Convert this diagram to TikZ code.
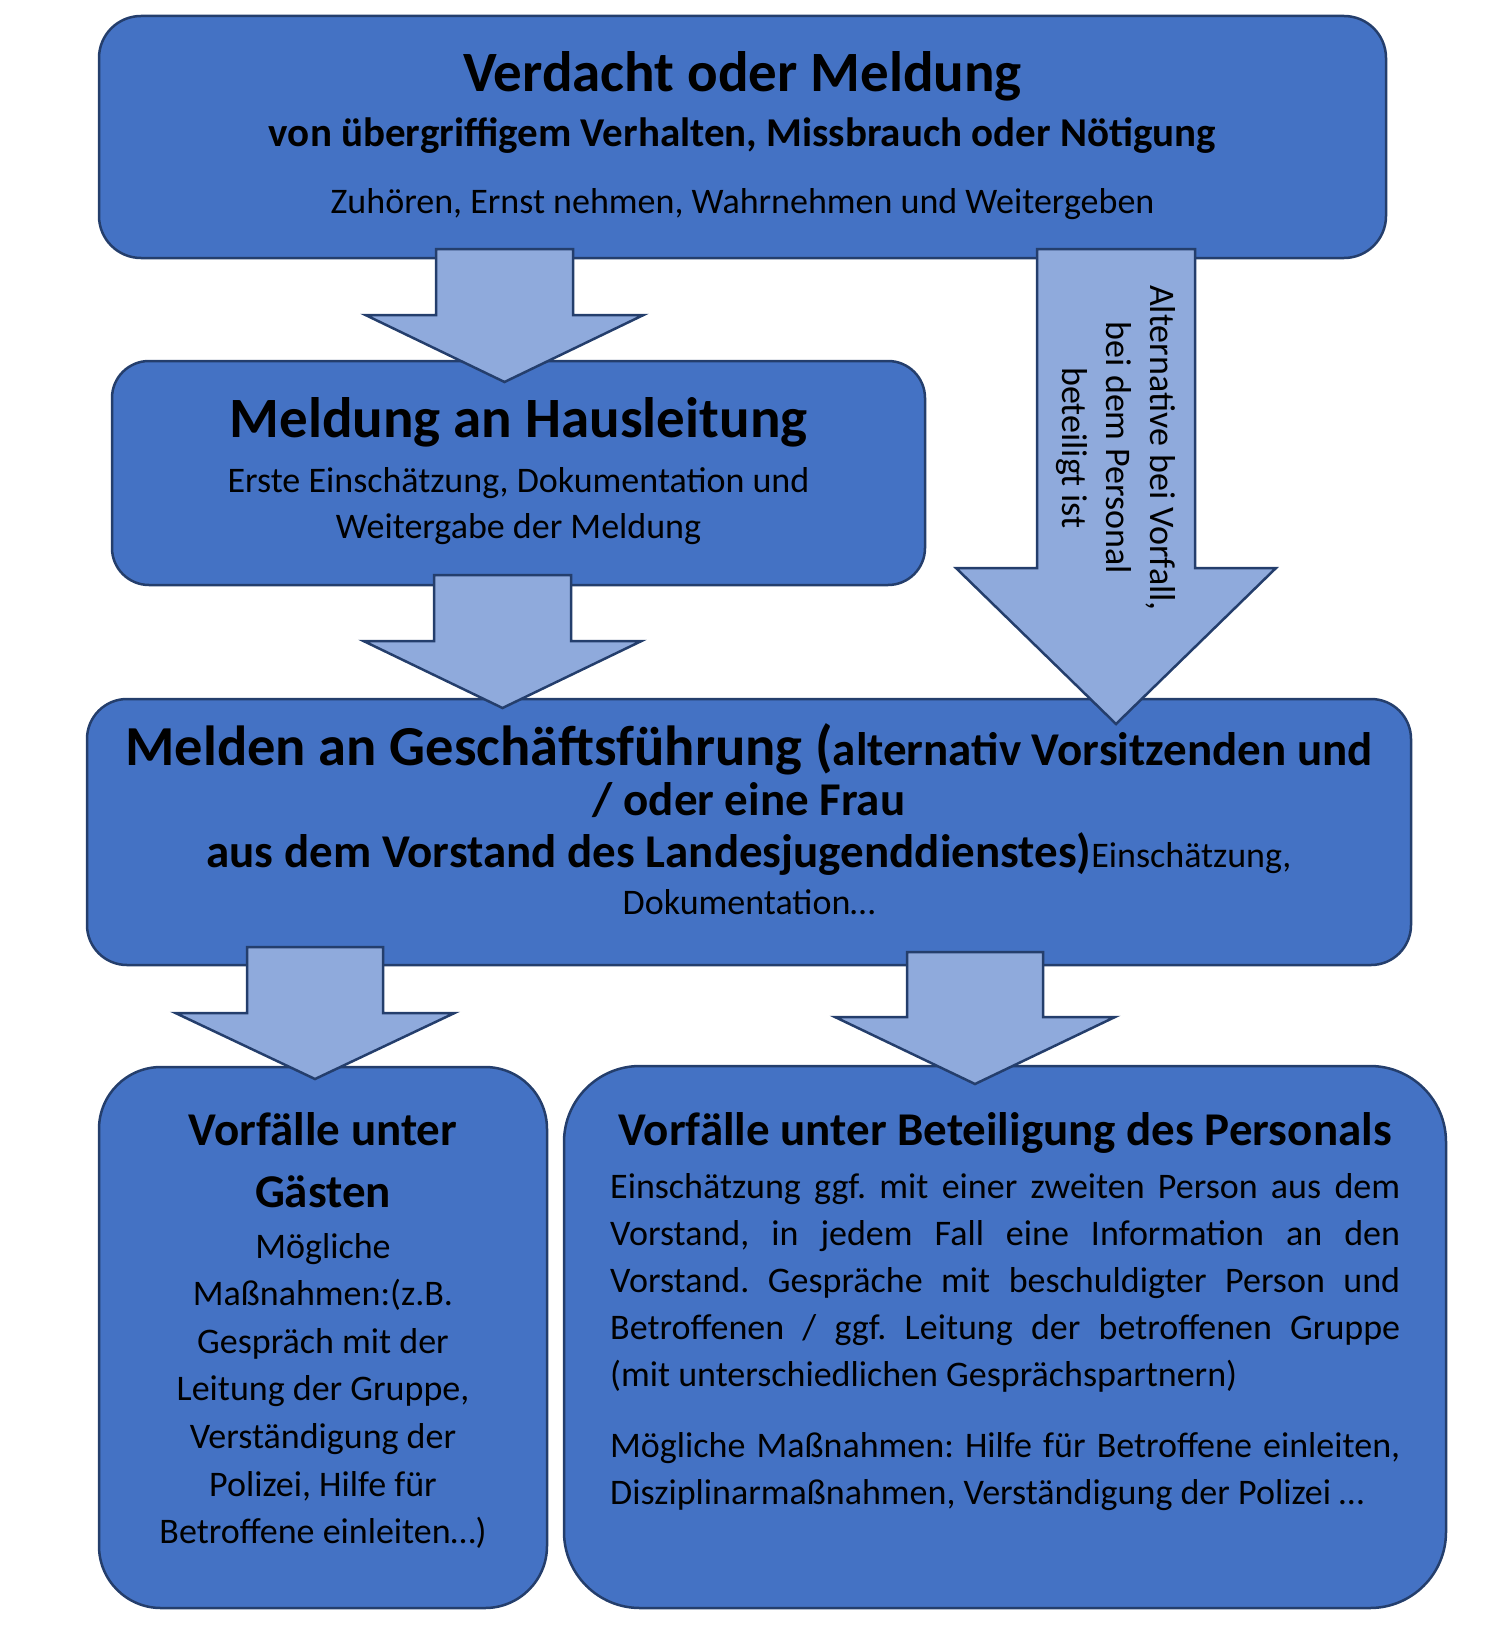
\documentclass[tikz,border=0pt]{standalone}
\usepackage{fontspec}
\setmainfont{Carlito}
\usetikzlibrary{calc}
\frenchspacing

\definecolor{boxblue}{HTML}{4472C4}
\definecolor{arrowblue}{HTML}{8FAADC}
\definecolor{edgeblue}{HTML}{243E6C}

\newcommand{\sz}[2]{\fontsize{#1}{#2}\selectfont}
% block arrow from a start point down to a tip
\newcommand{\flowarrow}[5]{%
  \draw[blockarrow] let \p1=(#1), \p2=(#2) in
    (\x1-#3,\y1) -- (\x1+#3,\y1) -- (\x1+#3,\y2+#5) -- (\x1+#4,\y2+#5)
    -- (\x2,\y2) -- (\x1-#4,\y2+#5) -- (\x1-#3,\y2+#5) -- cycle;}

\tikzset{
  flowbox/.style={draw=edgeblue, line width=2.5pt, fill=boxblue, rounded corners=#1},
  blockarrow/.style={draw=edgeblue, line width=2.5pt, fill=arrowblue, line join=miter},
  txt/.style={anchor=base, inner sep=0pt},
}

\begin{document}
\begin{tikzpicture}[x=1pt, y=-1pt]
\useasboundingbox (0,0) rectangle (1493,1640);

% the boxes
\node[flowbox=42pt, minimum width=1287pt, minimum height=242pt] (verdacht) at (742.5,137) {};
\node[flowbox=37pt, minimum width=813pt, minimum height=224pt] (hausleitung) at (518.5,473) {};
\node[flowbox=40pt, minimum width=1324pt, minimum height=266pt] (geschaeft) at (749,832) {};
\node[flowbox=62pt, minimum width=448pt, minimum height=541pt] (gaeste) at (323,1337.5) {};
\node[flowbox=76pt, minimum width=882pt, minimum height=542pt] (personal) at (1005,1337) {};

% the arrows
\coordinate (a1top) at (504.5,249);  \coordinate (a1tip) at (504.5,382);
\coordinate (a2top) at (502.5,575);  \coordinate (a2tip) at (502.5,708);
\coordinate (a3top) at (1116,249);   \coordinate (a3tip) at (1116,724);
\coordinate (a4top) at (315,947);    \coordinate (a4tip) at (315,1079);
\coordinate (a5top) at (975,952);    \coordinate (a5tip) at (975,1084);
\flowarrow{a1top}{a1tip}{68.5pt}{139pt}{67pt}
\flowarrow{a2top}{a2tip}{68.5pt}{139pt}{67pt}
\flowarrow{a3top}{a3tip}{79pt}{160pt}{156pt}
\flowarrow{a4top}{a4tip}{68pt}{139.5pt}{66pt}
\flowarrow{a5top}{a5tip}{68pt}{140pt}{67pt}
\node[rotate=-90, align=center, inner sep=0pt, font=\sz{36}{44}] (altnote) at (1116,448)
  {Alternative bei Vorfall,\\bei dem Personal\\beteiligt ist};

% texts of the top box
\node[txt, font=\sz{57}{60}\bfseries] (verdacht1) at (742.5,92) {Verdacht oder Meldung};
\node[txt, font=\sz{41}{45}\bfseries] (verdacht2) at (742.5,147) {von übergriffigem Verhalten, Missbrauch oder Nötigung};
\node[txt, font=\sz{36}{40}] (verdacht3) at (742.5,213) {Zuhören, Ernst nehmen, Wahrnehmen und Weitergeben};

% texts of the second box
\node[txt, font=\sz{57}{60}\bfseries] (haus1) at (518.5,437) {Meldung an Hausleitung};
\node[txt, font=\sz{36}{40}] (haus2) at (518.5,492) {Erste Einschätzung, Dokumentation und};
\node[txt, font=\sz{36}{40}] (haus3) at (518.5,538) {Weitergabe der Meldung};

% texts of the third box
\node[txt] (gf1) at (749,765)
  {\sz{56.5}{60}\bfseries Melden an Geschäftsführung (\sz{47}{50}alternativ Vorsitzenden und};
\node[txt, font=\sz{47}{50}\bfseries] (gf2) at (749,815) {/ oder eine Frau};
\node[txt] (gf3) at (749,867)
  {{\sz{47}{50}\bfseries aus dem Vorstand des Landesjugenddienstes)}\sz{36}{40}Einschätzung,};
\node[txt, font=\sz{36}{40}] (gf4) at (749,914) {Dokumentation…};

% texts of the left bottom box
\node[txt, font=\sz{47}{50}\bfseries] (gast1) at (323,1145) {Vorfälle unter};
\node[txt, font=\sz{47}{50}\bfseries] (gast2) at (323,1207) {Gästen};
\foreach \t [count=\i from 0] in {Mögliche, {Maßnahmen:(z.B.}, Gespräch mit der,
    {Leitung der Gruppe,}, Verständigung der, {Polizei, Hilfe für}, {Betroffene einleiten\ldots)}}
  \node[txt, font=\sz{36}{40}] (gastm\i) at (323,1258+47.6*\i) {\t};

% texts of the right bottom box
\node[txt, font=\sz{47}{50}\bfseries] (pers1) at (1005,1145) {Vorfälle unter Beteiligung des Personals};
\foreach \y/\t in {1198/{Einschätzung ggf. mit einer zweiten Person aus dem},
    1245/{Vorstand, in jedem Fall eine Information an den},
    1292/{Vorstand. Gespräche mit beschuldigter Person und},
    1339/{Betroffenen / ggf. Leitung der betroffenen Gruppe},
    1457/{Mögliche Maßnahmen: Hilfe für Betroffene einleiten,}}
  \node[txt, anchor=base west, font=\sz{36}{40}] at (610,\y) {\makebox[790pt][s]{\t}};
\foreach \y/\t in {1386/{(mit unterschiedlichen Gesprächspartnern)},
    1504/{Disziplinarmaßnahmen, Verständigung der Polizei …}}
  \node[txt, anchor=base west, font=\sz{36}{40}] at (610,\y) {\t};
\end{tikzpicture}
\end{document}
